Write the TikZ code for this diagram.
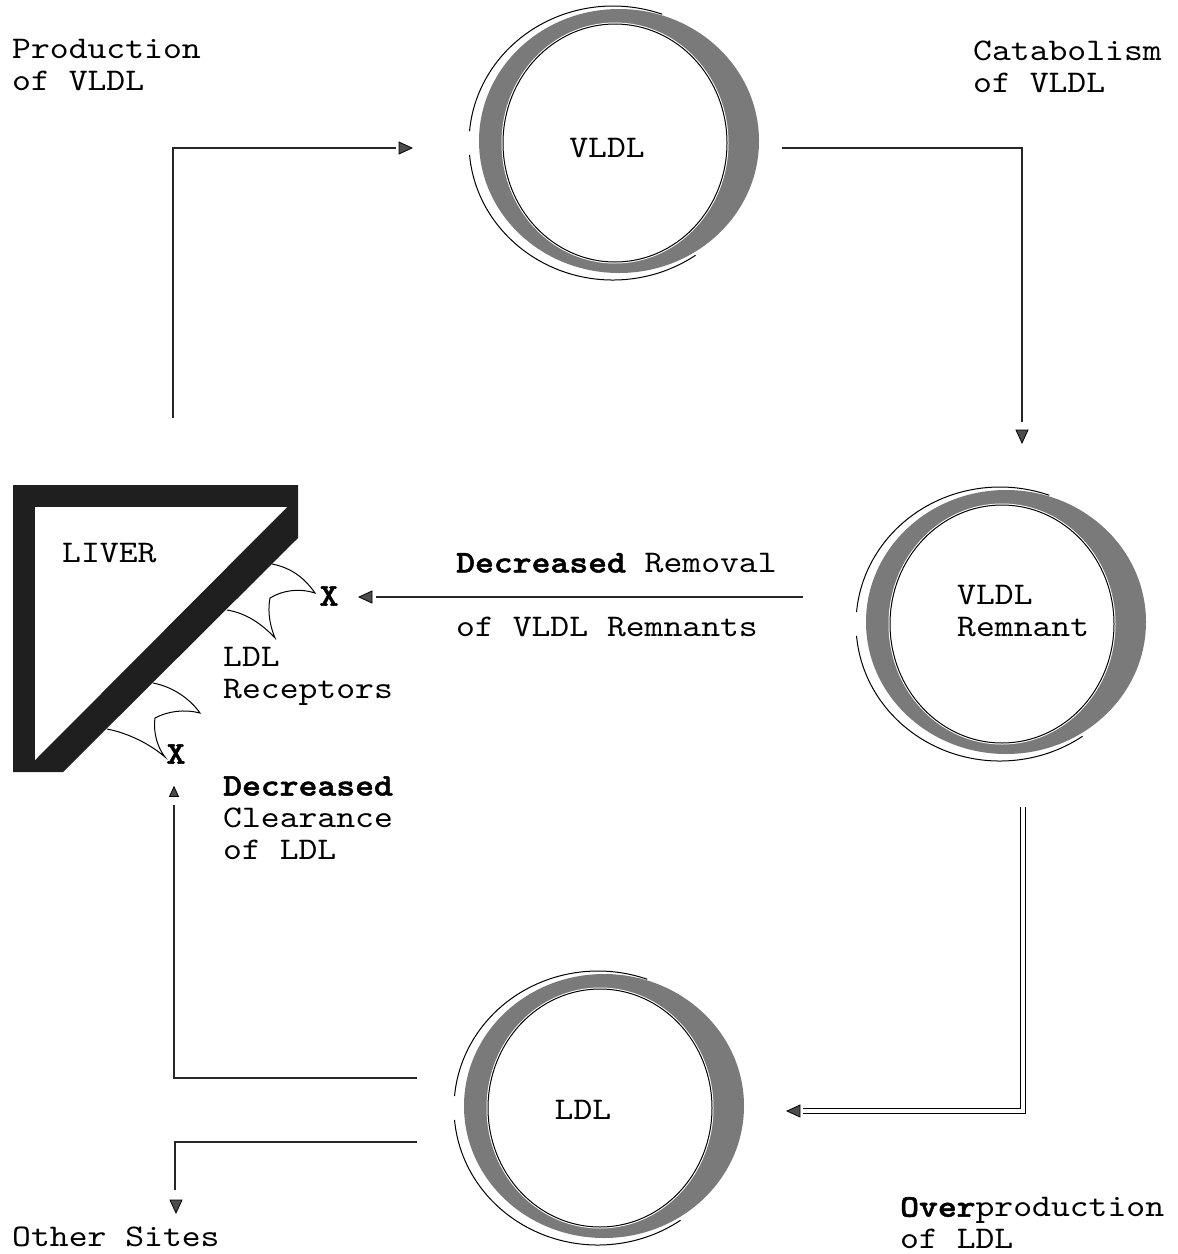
\documentclass[tikz,border=0pt]{standalone}
\usepackage{fontspec}
\setmainfont{lmmono10-regular.otf}[FakeStretch=1.14, BoldFont=lmmonolt10-bold.otf, BoldFeatures={FakeStretch=1.14, FakeBold=1.5}]
\tikzset{
  conn/.style={line width=1.3pt, draw=black!85},
  thinl/.style={line width=1pt},
  txt/.style={font=\fontsize{31.5}{32}\selectfont, inner sep=0pt, align=left},
  ringgray/.style={fill=black!52},
  arrowtipR/.pic={\filldraw[fill=black!70, draw=black, line width=0.8pt, line join=miter] (7,0) -- (-6,6) -- (-6,-6) -- cycle;},
}
\newcommand\lipring[2]{%
\begin{scope}[shift={(#1,#2)}]
  \fill[ringgray] (4,-2) ellipse [x radius=140, y radius=132];
  \filldraw[fill=white, draw=white, line width=3pt] (0,0) ellipse [x radius=112, y radius=119];
  \draw[thinl] (0,0) ellipse [x radius=112, y radius=119];
  \draw[thinl] (-2,0) ++(185:144 and 137) arc [start angle=185, end angle=290, x radius=144, y radius=137];
  \draw[thinl] (-2,0) ++(175:144 and 137) arc [start angle=175, end angle=55, x radius=144, y radius=137];
\end{scope}}
\begin{document}
\begin{tikzpicture}[x=1pt, y=-1pt]
\useasboundingbox (0,0) rectangle (1178,1254);
\fill[white] (0,0) rectangle (1178,1254);

% rings
\lipring{615}{143}
\lipring{1002}{624}
\lipring{600}{1108}
\node[txt] (vldl) at (607,148) {VLDL};
\node[txt, anchor=west] (remn) at (957,611) {VLDL\\Remnant};
\node[txt] (ldl) at (583,1110) {LDL};

% liver
\fill[black!88] (13,485) -- (298,485) -- (298,538) -- (63,772) -- (13,772) -- cycle;
\fill[white] (35,507) -- (287,507) -- (35,760) -- cycle;
\node[txt, anchor=west] (liver) at (62,553) {LIVER};

% receptors
\draw[thinl] (272,564) .. controls (293,568) and (306,580) .. (315,593)
  .. controls (300,588) and (283,590) .. (270,598)
  .. controls (267,614) and (271,628) .. (275,638)
  .. controls (262,624) and (246,613) .. (227,610);
\draw[thinl] (153,683) .. controls (174,687) and (191,700) .. (200,713)
  .. controls (185,709) and (168,711) .. (155,718)
  .. controls (153,734) and (158,748) .. (165,757)
  .. controls (150,744) and (128,733) .. (107,729);
\node[txt, font=\fontsize{31.5}{32}\selectfont\bfseries] (x1) at (329,596) {X};
\node[txt, font=\fontsize{31.5}{32}\selectfont\bfseries] (x2) at (176,754) {X};

% labels
\node[txt, anchor=west] (prod) at (12,65) {Production\\of VLDL};
\node[txt, anchor=west] (catab) at (973,67) {Catabolism\\of VLDL};
\node[txt, anchor=west] (remov) at (456,595) {\textbf{Decreased} Removal\\[32pt]of VLDL Remnants};
\node[txt, anchor=west] (recep) at (223,676) {LDL\\Receptors};
\node[txt, anchor=west] (clear) at (223,818) {\textbf{Decreased}\\Clearance\\of LDL};
\node[txt, anchor=west] (other) at (12,1237) {Other Sites};
\node[txt, anchor=west] (overp) at (900,1223) {\textbf{Over}production\\of LDL};

% connectors
\coordinate (a1s) at (173,418);
\coordinate (a1e) at (396,148);
\draw[conn] (a1s) |- (a1e);
\pic at (405,148) {arrowtipR};

\coordinate (a2s) at (782,148);
\coordinate (a2e) at (1022,422);
\draw[conn] (a2s) -| (a2e);
\pic[rotate=-90] at (1022,436) {arrowtipR};

\coordinate (a3s) at (803,597);
\coordinate (a3e) at (376,597);
\draw[conn] (a3s) -- (a3e);
\pic[rotate=180] at (366,597) {arrowtipR};

\coordinate (a4s) at (417,1078);
\coordinate (a4e) at (174,805);
\draw[conn] (a4s) -| (a4e);
\pic[rotate=90, scale=0.75] at (174,792) {arrowtipR};

\coordinate (a5s) at (417,1142);
\coordinate (a5e) at (175,1190);
\draw[conn] (a5s) -| (a5e);
\pic[rotate=-90] at (176,1206) {arrowtipR};

\coordinate (a6s) at (1023,807);
\coordinate (a6e) at (803,1111);
\draw[line width=1.2pt, double=white, double distance=4pt] (a6s) |- (a6e);
\pic[rotate=180] at (794,1111) {arrowtipR};
\end{tikzpicture}
\end{document}
